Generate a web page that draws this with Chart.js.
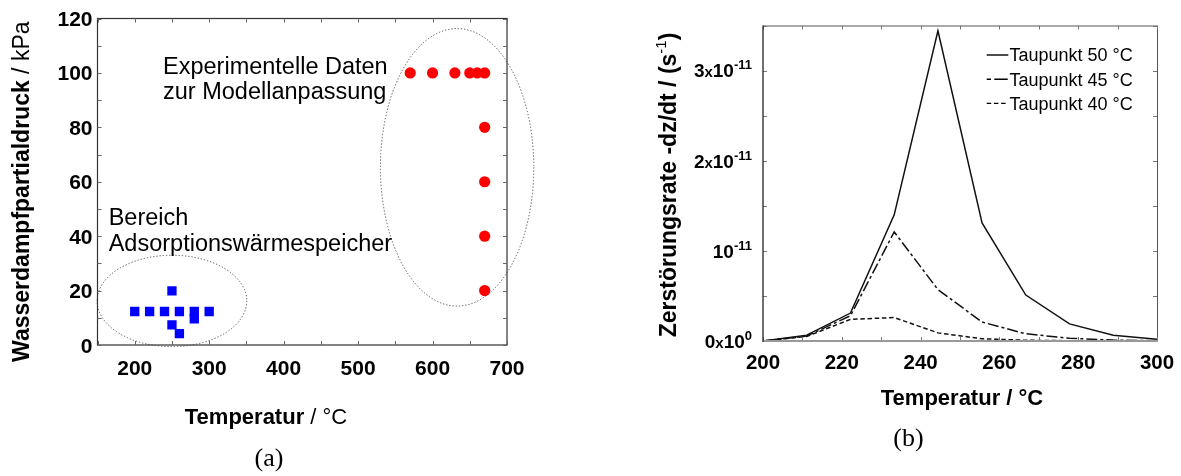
<!DOCTYPE html>
<html>
<head>
<meta charset="utf-8">
<script src="https://cdn.jsdelivr.net/npm/chart.js@4.4.1/dist/chart.umd.min.js"></script>
<style>
  html, body { margin: 0; padding: 0; background: #fff; width: 1181px; height: 476px; overflow: hidden; }
  .panel { position: absolute; top: 0; }
  #wrapA { left: 0; width: 590px; height: 476px; }
  #wrapB { left: 590px; width: 591px; height: 476px; }
</style>
</head>
<body>
<div id="wrapA" class="panel"><canvas id="chartA" width="590" height="476"></canvas></div>
<div id="wrapB" class="panel"><canvas id="chartB" width="591" height="476"></canvas></div>
<script>
// ---- Panel (a): water vapour partial pressure vs. temperature ----
const storageTemps = [200, 220, 240, 260, 280, 300, 250, 250, 260, 280];          // °C
const storagePressures = [12.3, 12.3, 12.3, 12.3, 12.3, 12.3, 19.9, 7.4, 4.2, 9.6]; // kPa
const fitTemps = [570, 600, 630, 650, 660, 670, 670, 670, 670, 670];                 // °C
const fitPressures = [100, 100, 100, 100, 100, 100, 80, 60, 40, 20];                 // kPa
const xTicksA = [200, 300, 400, 500, 600, 700];
const yTicksA = [0, 20, 40, 60, 80, 100, 120];
// outlined regions in data units: centre temperature, centre pressure, half-width, half-height
const regionOutlines = [
  { cx: 250, cy: 16.2, rx: 100.5, ry: 16.8 },
  { cx: 633, cy: 65.3, rx: 103, ry: 51 }
];

// ---- Panel (b): destruction rate vs. temperature (values in 1e-11 s^-1) ----
const tempsB = [200, 211.1, 222.2, 233.3, 244.4, 255.6, 266.7, 277.8, 288.9, 300];
const rateDew50 = [0, 0.065, 0.31, 1.40, 3.44, 1.31, 0.51, 0.19, 0.065, 0.02];
const rateDew45 = [0, 0.055, 0.28, 1.21, 0.57, 0.21, 0.08, 0.03, 0.01, 0.004];
const rateDew40 = [0, 0.05, 0.24, 0.26, 0.09, 0.025, 0.008, 0.003, 0.001, 0];
const seriesNamesB = ['Taupunkt 50 °C', 'Taupunkt 45 °C', 'Taupunkt 40 °C'];
const xTicksB = [200, 220, 240, 260, 280, 300];
const yTicksB = [0, 1, 2, 3];

const SANS = "'Liberation Sans', Arial, sans-serif";
const SERIF = "'Liberation Serif', 'DejaVu Serif', serif";

function toPoints(xs, ys) { return xs.map((x, i) => ({ x: x, y: ys[i] })); }

// Draws a sequence of text runs (different fonts / vertical offsets) on one baseline.
function drawRuns(ctx, runs, x, y, align) {
  let total = 0;
  runs.forEach(r => { ctx.font = r.font; r.w = ctx.measureText(r.text).width; total += r.w; });
  let cx = align === 'center' ? x - total / 2 : (align === 'right' ? x - total : x);
  ctx.textAlign = 'left';
  ctx.textBaseline = 'alphabetic';
  runs.forEach(r => { ctx.font = r.font; ctx.fillText(r.text, cx, y + (r.dy || 0)); cx += r.w; });
}

function drawInwardTicks(ctx, chart, len, color, width) {
  const a = chart.chartArea, sx = chart.scales.x, sy = chart.scales.y;
  ctx.save();
  ctx.strokeStyle = color;
  ctx.lineWidth = width;
  ctx.beginPath();
  sx.ticks.forEach(t => {
    const px = Math.round(sx.getPixelForValue(t.value)) + 0.5;
    ctx.moveTo(px, a.bottom); ctx.lineTo(px, a.bottom - len);
    ctx.moveTo(px, a.top); ctx.lineTo(px, a.top + len);
  });
  sy.ticks.forEach(t => {
    const py = Math.round(sy.getPixelForValue(t.value)) + 0.5;
    ctx.moveTo(a.left, py); ctx.lineTo(a.left + len, py);
    ctx.moveTo(a.right, py); ctx.lineTo(a.right - len, py);
  });
  ctx.stroke();
  ctx.restore();
}

// ---------- Panel (a) decorations ----------
const decorA = {
  id: 'decorA',
  beforeDatasetsDraw(chart) {
    const ctx = chart.ctx, sx = chart.scales.x, sy = chart.scales.y;
    ctx.save();
    ctx.strokeStyle = '#555';
    ctx.lineWidth = 1;
    ctx.setLineDash([1.3, 1.9]);
    regionOutlines.forEach(r => {
      const cx = sx.getPixelForValue(r.cx), cy = sy.getPixelForValue(r.cy);
      const rx = Math.abs(sx.getPixelForValue(r.cx + r.rx) - cx);
      const ry = Math.abs(sy.getPixelForValue(r.cy + r.ry) - cy);
      ctx.beginPath();
      ctx.ellipse(cx, cy, rx, ry, 0, 0, Math.PI * 2);
      ctx.stroke();
    });
    ctx.restore();
  },
  afterDraw(chart) {
    const ctx = chart.ctx, a = chart.chartArea, sx = chart.scales.x, sy = chart.scales.y;
    ctx.save();
    // frame
    ctx.strokeStyle = '#333';
    ctx.lineWidth = 1.2;
    ctx.strokeRect(a.left, a.top, a.right - a.left, a.bottom - a.top);
    drawInwardTicks(ctx, chart, 4, '#666', 1);

    ctx.fillStyle = '#000';
    // tick labels
    yTicksA.forEach(v => {
      drawRuns(ctx, [{ text: String(v), font: 'bold 21px ' + SANS }], a.left - 5, sy.getPixelForValue(v) + 7.5, 'right');
    });
    xTicksA.forEach(v => {
      drawRuns(ctx, [{ text: String(v), font: 'bold 21px ' + SANS }], sx.getPixelForValue(v), 375, 'center');
    });

    // annotations
    const note = '23.5px ' + SANS;
    drawRuns(ctx, [{ text: 'Experimentelle Daten', font: note }], sx.getPixelForValue(238), sy.getPixelForValue(99.6), 'left');
    drawRuns(ctx, [{ text: 'zur Modellanpassung', font: note }], sx.getPixelForValue(238), sy.getPixelForValue(90.3), 'left');
    drawRuns(ctx, [{ text: 'Bereich', font: note }], sx.getPixelForValue(165), sy.getPixelForValue(44.1), 'left');
    drawRuns(ctx, [{ text: 'Adsorptionswärmespeicher', font: note }], sx.getPixelForValue(165), sy.getPixelForValue(34.7), 'left');

    // axis titles
    drawRuns(ctx, [
      { text: 'Temperatur', font: 'bold 22px ' + SANS },
      { text: ' / °C', font: '22px ' + SANS }
    ], 266, 423.5, 'center');

    ctx.save();
    ctx.translate(20.6, 191.7);
    ctx.rotate(-Math.PI / 2);
    drawRuns(ctx, [
      { text: 'Wasserdampfpartialdruck', font: 'bold 23px ' + SANS },
      { text: ' / kPa', font: '23px ' + SANS }
    ], 0, 8.2, 'center');
    ctx.restore();

    // caption
    ctx.font = '26px ' + SERIF;
    ctx.textAlign = 'center';
    ctx.textBaseline = 'middle';
    ctx.fillText('(a)', 269, 459);
    ctx.restore();
  }
};

new Chart(document.getElementById('chartA'), {
  type: 'scatter',
  data: {
    datasets: [
      {
        label: 'Bereich Adsorptionswärmespeicher',
        data: toPoints(storageTemps, storagePressures),
        pointStyle: 'rect',
        pointRadius: 6.6,
        backgroundColor: '#0000ff',
        borderColor: '#0000ff',
        borderWidth: 0
      },
      {
        label: 'Experimentelle Daten zur Modellanpassung',
        data: toPoints(fitTemps, fitPressures),
        pointStyle: 'circle',
        pointRadius: 5.6,
        backgroundColor: '#ff0000',
        borderColor: '#ff0000',
        borderWidth: 0
      }
    ]
  },
  options: {
    responsive: false,
    animation: false,
    devicePixelRatio: 1,
    layout: { padding: { left: 0, top: 18.5, right: 83, bottom: 0 } },
    plugins: { legend: { display: false }, tooltip: { enabled: false } },
    scales: {
      x: {
        type: 'linear', min: 150, max: 700,
        ticks: { stepSize: 50, display: false },
        grid: { display: false }, border: { display: false },
        afterFit(s) { s.height = 131; }
      },
      y: {
        type: 'linear', min: 0, max: 120,
        ticks: { stepSize: 10, display: false },
        grid: { display: false }, border: { display: false },
        afterFit(s) { s.width = 97.5; }
      }
    }
  },
  plugins: [decorA]
});

// ---------- Panel (b) decorations ----------
const dashPatterns = [[], [11, 3, 3, 3], [4.5, 2.7]];

const decorB = {
  id: 'decorB',
  afterDraw(chart) {
    const ctx = chart.ctx, a = chart.chartArea, sx = chart.scales.x, sy = chart.scales.y;
    ctx.save();
    // frame: light top/right, grey baseline, black left spine
    ctx.lineWidth = 1;
    ctx.strokeStyle = '#555';
    ctx.beginPath();
    ctx.moveTo(a.left, a.top + 0.5); ctx.lineTo(a.right + 0.5, a.top + 0.5); ctx.lineTo(a.right + 0.5, a.bottom);
    ctx.stroke();
    drawInwardTicks(ctx, chart, 4, '#777', 1);
    ctx.strokeStyle = '#999';
    ctx.lineWidth = 2;
    ctx.beginPath();
    ctx.moveTo(a.left, a.bottom); ctx.lineTo(a.right + 1, a.bottom);
    ctx.stroke();
    ctx.strokeStyle = '#222';
    ctx.lineWidth = 1.3;
    ctx.beginPath();
    ctx.moveTo(a.left, a.top); ctx.lineTo(a.left, a.bottom + 1);
    ctx.stroke();

    ctx.fillStyle = '#000';
    // x tick labels
    xTicksB.forEach(v => {
      drawRuns(ctx, [{ text: String(v), font: 'bold 20.5px ' + SANS }], sx.getPixelForValue(v), 369, 'center');
    });
    // y tick labels with powers of ten
    const big = 'bold 19px ' + SANS, small = 'bold 15px ' + SANS, sup = 'bold 13px ' + SANS;
    yTicksB.forEach(v => {
      const runs = [];
      if (v === 0) {
        runs.push({ text: '0', font: big }, { text: 'x', font: small }, { text: '10', font: big }, { text: '0', font: sup, dy: -8 });
      } else if (v === 1) {
        runs.push({ text: '10', font: big }, { text: '-11', font: sup, dy: -8 });
      } else {
        runs.push({ text: String(v), font: big }, { text: 'x', font: small }, { text: '10', font: big }, { text: '-11', font: sup, dy: -8 });
      }
      drawRuns(ctx, runs, a.left - 11, sy.getPixelForValue(v) + 6.8, 'right');
    });

    // legend
    chart.data.datasets.forEach((ds, i) => {
      const y = 55 + i * 24.2;
      ctx.save();
      ctx.strokeStyle = '#000';
      ctx.lineWidth = 1.4;
      ctx.setLineDash(i === 1 ? [4.3, 3.3, 13.4, 3] : ds.borderDash || []);
      ctx.beginPath();
      ctx.moveTo(396.7, y); ctx.lineTo(418.3, y);
      ctx.stroke();
      ctx.restore();
      drawRuns(ctx, [{ text: ds.label, font: '18px ' + SANS }], 419.5, y + 6.4, 'left');
    });

    // axis titles
    drawRuns(ctx, [{ text: 'Temperatur / °C', font: 'bold 22px ' + SANS }], 372, 404.6, 'center');
    ctx.save();
    ctx.translate(78, 185);
    ctx.rotate(-Math.PI / 2);
    drawRuns(ctx, [
      { text: 'Zerstörungsrate -dz/dt / (s', font: 'bold 23px ' + SANS },
      { text: '-1', font: '15px ' + SANS, dy: -10 },
      { text: ')', font: 'bold 23px ' + SANS }
    ], 0, 8.2, 'center');
    ctx.restore();

    // caption
    ctx.font = '26px ' + SERIF;
    ctx.textAlign = 'center';
    ctx.textBaseline = 'middle';
    ctx.fillText('(b)', 318.5, 439);
    ctx.restore();
  }
};

const seriesB = [rateDew50, rateDew45, rateDew40];
new Chart(document.getElementById('chartB'), {
  type: 'line',
  data: {
    datasets: seriesB.map((vals, i) => ({
      label: seriesNamesB[i],
      data: toPoints(tempsB, vals),
      borderColor: '#111',
      borderWidth: 1.5,
      borderDash: dashPatterns[i],
      pointRadius: 0,
      tension: 0,
      fill: false
    }))
  },
  options: {
    responsive: false,
    animation: false,
    devicePixelRatio: 1,
    layout: { padding: { left: 0, top: 25.5, right: 24, bottom: 0 } },
    plugins: { legend: { display: false }, tooltip: { enabled: false } },
    scales: {
      x: {
        type: 'linear', min: 200, max: 300,
        ticks: { stepSize: 10, display: false },
        grid: { display: false }, border: { display: false },
        afterFit(s) { s.height = 135; }
      },
      y: {
        type: 'linear', min: 0, max: 3.5,
        ticks: { stepSize: 0.5, display: false },
        grid: { display: false }, border: { display: false },
        afterFit(s) { s.width = 173; }
      }
    }
  },
  plugins: [decorB]
});
</script>
</body>
</html>
